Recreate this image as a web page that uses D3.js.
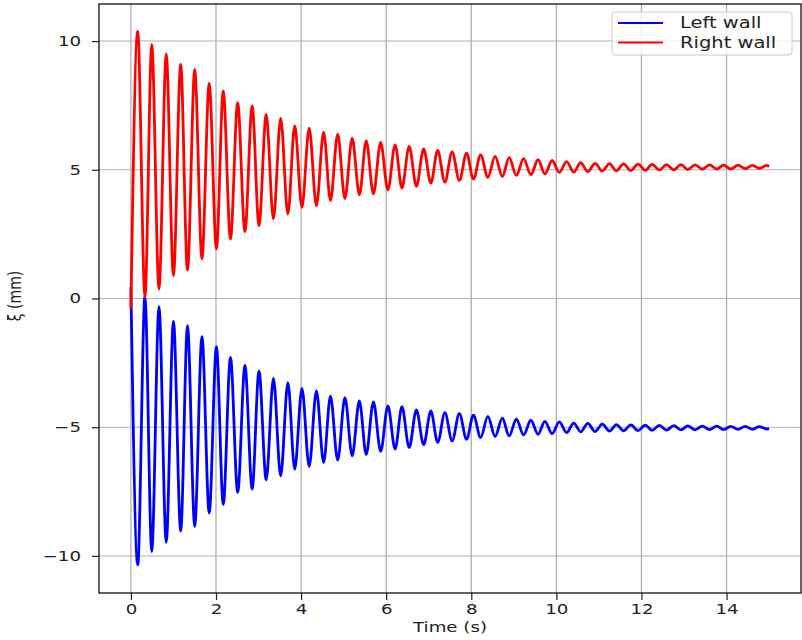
<!DOCTYPE html>
<html>
<head>
<style>
  body { margin: 0; background: #fff; }
  text { font-family: "DejaVu Sans", sans-serif; fill: #222; }
</style>
</head>
<body>
</body>
<script src="https://d3js.org/d3.v7.min.js"></script>
<script>
var time = [0, 0.16, 0.33, 0.49, 0.66, 0.83, 1.0, 1.17, 1.33, 1.5, 1.67, 1.84, 2.01, 2.17, 2.34, 2.51,
  2.68, 2.85, 3.01, 3.18, 3.35, 3.52, 3.69, 3.85, 4.02, 4.19, 4.36, 4.53, 4.69, 4.86, 5.03, 5.2,
  5.37, 5.53, 5.7, 5.87, 6.04, 6.21, 6.37, 6.54, 6.71, 6.88, 7.05, 7.21, 7.38, 7.55, 7.72, 7.89,
  8.05, 8.22, 8.39, 8.56, 8.73, 8.89, 9.06, 9.23, 9.4, 9.57, 9.73, 9.9, 10.07, 10.24, 10.41, 10.57,
  10.74, 10.91, 11.08, 11.25, 11.41, 11.58, 11.75, 11.92, 12.09, 12.25, 12.42, 12.59, 12.76, 12.93,
  13.09, 13.26, 13.43, 13.6, 13.77, 13.93, 14.1, 14.27, 14.44, 14.61, 14.77, 14.94, 15.0];

// displacement (mm) at those times
var leftWall = [0.45,
  -10.35, 0.07, -9.83, -0.32, -9.47, -0.88, -9.04, -1.05, -8.85, -1.48, -8.33, -1.87, -8.00, -2.29,
  -7.53, -2.60, -7.40, -2.82, -7.04, -3.10, -6.89, -3.27, -6.63, -3.49, -6.52, -3.59, -6.37, -3.79,
  -6.28, -3.85, -6.11, -3.98, -6.06, -4.02, -5.94, -4.17, -5.85, -4.20, -5.79, -4.33, -5.68, -4.37,
  -5.59, -4.43, -5.53, -4.47, -5.47, -4.53, -5.40, -4.58, -5.36, -4.65, -5.34, -4.69, -5.30, -4.73,
  -5.27, -4.77, -5.25, -4.79, -5.21, -4.84, -5.18, -4.85, -5.17, -4.88, -5.15, -4.90, -5.14, -4.91,
  -5.13, -4.92, -5.12, -4.93, -5.11, -4.94, -5.10, -4.95, -5.10, -4.96, -5.09, -4.96, -5.09, -4.97,
  -5.08, -4.97, -5.08, -4.98, -5.07,
  -5.04];

var rightWall = [-0.4,
  10.39, 0.05, 9.87, 0.37, 9.50, 0.89, 9.10, 1.10, 8.90, 1.54, 8.36, 1.93, 8.06, 2.31,
  7.61, 2.60, 7.48, 2.83, 7.15, 3.09, 7.00, 3.28, 6.71, 3.54, 6.62, 3.60, 6.46, 3.80,
  6.38, 3.88, 6.23, 4.03, 6.12, 4.07, 6.06, 4.22, 5.97, 4.29, 5.91, 4.36, 5.81, 4.48,
  5.75, 4.52, 5.69, 4.59, 5.65, 4.64, 5.58, 4.71, 5.52, 4.74, 5.47, 4.78, 5.43, 4.81,
  5.39, 4.84, 5.36, 4.90, 5.32, 4.91, 5.28, 4.93, 5.25, 4.95, 5.24, 4.96, 5.23, 4.97,
  5.22, 4.98, 5.21, 4.99, 5.20, 5.00, 5.20, 5.01, 5.19, 5.02, 5.19, 5.03, 5.18, 5.03,
  5.18, 5.04, 5.17, 5.05, 5.17,
  5.13];

var seriesNames = ["Left wall", "Right wall"];
var seriesColors = ["blue", "red"];
var xTicks = [0, 2, 4, 6, 8, 10, 12, 14];
var yTicks = [-10, -5, 0, 5, 10];

// the picture is stretched sideways, so text is too
var sx = 1.3;

var plotLeft = 99, plotRight = 801, plotTop = 4, plotBottom = 593;

var x = d3.scaleLinear().domain([-0.75, 15.75]).range([plotLeft, plotRight]);
var y = d3.scaleLinear().domain([-11.44, 11.44]).range([plotBottom, plotTop]);

var svg = d3.select("body").append("svg")
            .attr("width", 802)
            .attr("height", 640);

// grid
svg.append("g").selectAll("line").data(xTicks).enter().append("line")
   .attr("x1", function (d) { return x(d); })
   .attr("x2", function (d) { return x(d); })
   .attr("y1", plotTop).attr("y2", plotBottom)
   .attr("stroke", "#b0b0b0").attr("stroke-width", 1.3);
svg.append("g").selectAll("line").data(yTicks).enter().append("line")
   .attr("y1", function (d) { return y(d); })
   .attr("y2", function (d) { return y(d); })
   .attr("x1", plotLeft).attr("x2", plotRight)
   .attr("stroke", "#b0b0b0").attr("stroke-width", 1.1);

// the two walls, curve goes flat at every turning point
var allSeries = [leftWall, rightWall];
var line = d3.line()
             .x(function (d, i) { return x(time[i]); })
             .y(function (d) { return y(d); })
             .curve(d3.curveMonotoneX);

svg.append("clipPath").attr("id", "clip").append("rect")
   .attr("x", plotLeft).attr("y", plotTop)
   .attr("width", plotRight - plotLeft).attr("height", plotBottom - plotTop);

for (var s = 0; s < allSeries.length; s++)
{
  svg.append("path")
     .attr("d", line(allSeries[s]))
     .attr("clip-path", "url(#clip)")
     .attr("fill", "none")
     .attr("stroke", seriesColors[s])
     .attr("stroke-width", 2.8)
     .attr("stroke-linejoin", "round");
}

// axes
var xAxis = svg.append("g")
               .attr("transform", "translate(0," + plotBottom + ")")
               .call(d3.axisBottom(x).tickValues(xTicks).tickSize(7).tickPadding(4).tickFormat(d3.format("d")));
var yAxis = svg.append("g")
               .attr("transform", "translate(" + plotLeft + ",0)")
               .call(d3.axisLeft(y).tickValues(yTicks).tickSize(7).tickPadding(11)
                       .tickFormat(function (d) { return d < 0 ? "\u2212" + Math.abs(d) : d; }));

[xAxis, yAxis].forEach(function (g) {
  g.select(".domain").remove();
  g.selectAll(".tick line").attr("stroke", "#222").attr("stroke-width", 1.2);
  g.selectAll(".tick text").style("font-size", "14px").attr("fill", "#222")
   .style("font-family", "DejaVu Sans");
});
xAxis.selectAll(".tick text").attr("transform", "scale(" + sx + ",1)");
yAxis.selectAll(".tick text").attr("transform", "scale(" + sx + ",1)")
     .attr("x", -18 / sx);

// frame
svg.append("rect")
   .attr("x", plotLeft).attr("y", plotTop)
   .attr("width", plotRight - plotLeft).attr("height", plotBottom - plotTop)
   .attr("fill", "none").attr("stroke", "#111").attr("stroke-width", 1.3);

// axis labels
svg.append("text")
   .attr("transform", "translate(" + ((plotLeft + plotRight) / 2) + ",632) scale(" + sx + ",1)")
   .attr("text-anchor", "middle")
   .style("font-size", "14px")
   .text("Time (s)");
svg.append("text")
   .attr("transform", "translate(21,296) scale(" + sx + ",1) rotate(-90)")
   .attr("text-anchor", "middle")
   .style("font-size", "14px")
   .text("\u03be (mm)");

// legend
var legend = svg.append("g");
legend.append("rect")
      .attr("x", 612).attr("y", 12).attr("width", 180).attr("height", 43)
      .attr("rx", 3)
      .attr("fill", "white").attr("fill-opacity", 0.8)
      .attr("stroke", "#cccccc").attr("stroke-width", 1);
for (var k = 0; k < seriesNames.length; k++)
{
  var ly = 23 + k * 19.6;
  legend.append("line")
        .attr("x1", 618).attr("x2", 663)
        .attr("y1", ly).attr("y2", ly)
        .attr("stroke", seriesColors[k]).attr("stroke-width", 2);
  legend.append("text")
        .attr("transform", "translate(680," + ly + ") scale(" + sx + ",1)")
        .attr("dy", "0.36em")
        .style("font-size", "15px")
        .text(seriesNames[k]);
}
</script>
</html>
